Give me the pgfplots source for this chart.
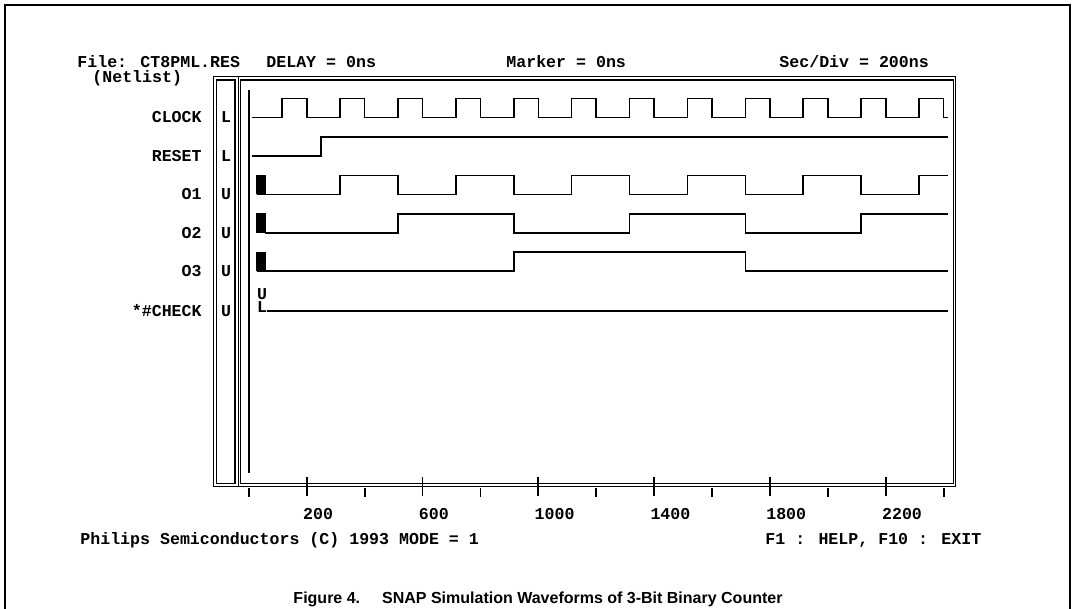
\documentclass[border=0pt]{standalone}
\usepackage{fontspec}
\usepackage{pgfplots}
\pgfplotsset{compat=1.18}
\setmainfont{Liberation Sans}
\newfontfamily\mono{Liberation Mono}
\newcommand\mb{\mono\bfseries\fontsize{8.3}{9}\selectfont}
\newcommand\capf{\bfseries\fontsize{8.0}{9}\selectfont}
\begin{document}
\begin{tikzpicture}[x=0.5pt,y=-0.5pt]
\useasboundingbox (0,0) rectangle (1075,609);
% outer figure border
\draw[line width=1pt] (5,609) -- (5,5) -- (1070,5) -- (1070,609);
\begin{axis}[
  at={(119pt,-38.35pt)}, anchor=north west,
  scale only axis, width=358.85pt, height=205pt,
  xmin=-37.3, xmax=2441.8, ymin=76.7, ymax=486.7, y dir=reverse,
  axis line style={draw=none},
  ytick=\empty,
  xtick={200,600,1000,1400,1800,2200},
  xticklabels={200,600,1000,1400,1800,2200},
  minor xtick={0,400,800,1200,1600,2000,2400},
  xtick pos=bottom, tick align=center,
  major tick length=9.5pt, minor tick length=4.5pt,
  every minor tick/.append style={yshift=-2.65pt},
  tick style={black, line width=0.9pt},
  xticklabel style={font=\mb, anchor=north west, inner sep=0pt, xshift=-2pt, yshift=-6pt},
  clip=false,
]
% marker cursor at 0 ns
\addplot[black, line width=0.8pt] coordinates {(0,90) (0,473)};
% CLOCK
\addplot[const plot, black, line width=0.8pt, y filter/.expression={117.3-19*y}] coordinates {
(10,0)(115,1)(200,0)(315,1)(400,0)(515,1)(600,0)(715,1)(800,0)(915,1)(1000,0)(1115,1)(1200,0)
(1315,1)(1400,0)(1515,1)(1600,0)(1715,1)(1800,0)(1915,1)(2000,0)(2115,1)(2200,0)(2315,1)(2400,0)(2415,0)};
% RESET
\addplot[const plot, black, line width=0.8pt, y filter/.expression={156-19*y}] coordinates {
(12,0)(250,1)(2415,1)};
% O1
\addplot[black, fill=black, y filter/.expression={194.3-19*y}] coordinates {(27,0)(56,0)(56,1)(27,1)(27,0)};
\addplot[const plot, black, line width=0.8pt, y filter/.expression={194.3-19*y}] coordinates {
(56,0)(315,1)(515,0)(715,1)(915,0)(1115,1)(1315,0)(1515,1)(1715,0)(1915,1)(2115,0)(2315,1)(2415,1)};
% O2
\addplot[black, fill=black, y filter/.expression={232.7-19*y}] coordinates {(27,0)(56,0)(56,1)(27,1)(27,0)};
\addplot[const plot, black, line width=0.8pt, y filter/.expression={232.7-19*y}] coordinates {
(56,0)(515,1)(915,0)(1315,1)(1715,0)(2115,1)(2415,1)};
% O3
\addplot[black, fill=black, y filter/.expression={271-19*y}] coordinates {(27,0)(56,0)(56,1)(27,1)(27,0)};
\addplot[const plot, black, line width=0.8pt, y filter/.expression={271-19*y}] coordinates {
(56,0)(915,1)(1715,0)(2415,0)};
% *#CHECK
\addplot[black, line width=0.8pt, y filter/.expression={310.7-19*y}] coordinates {(63,0)(2415,0)};
\end{axis}
% frames
\draw[line width=0.6pt] (213.3,76.7) rectangle (955.7,486.7);
\draw[line width=0.6pt] (238.3,76.7) -- (238.3,486.7);
\draw[line width=0.6pt] (216.7,80) rectangle (235,483.3);
\draw[line width=0.6pt] (240.8,80) rectangle (953.3,483.3);
% header
\begin{scope}[every node/.style={inner sep=0pt, font=\mb}]
\node[anchor=west] at (77,62) {File: CT8PML.RES};
\node[anchor=west] at (266,62) {DELAY = 0ns};
\node[anchor=west] at (506,62) {Marker = 0ns};
\node[anchor=west] at (779,62) {Sec/Div = 200ns};
\node[anchor=west] at (92,78) {(Netlist)};
\node[anchor=east] at (202,117) {CLOCK};
\node[anchor=east] at (202,156) {RESET};
\node[anchor=east] at (202,194.3) {O1};
\node[anchor=east] at (202,232.7) {O2};
\node[anchor=east] at (202,271) {O3};
\node[anchor=east] at (202,310.7) {*\#CHECK};
\node at (226,117) {L};
\node at (226,156) {L};
\node at (226,194.3) {U};
\node at (226,232.7) {U};
\node at (226,271) {U};
\node at (226,310.7) {U};
\node[anchor=base, align=center, font={\mono\bfseries\fontsize{8.3}{6.2}\selectfont}] at (262,312) {U\\L};
\node[anchor=west] at (80,540) {Philips Semiconductors (C) 1993 MODE = 1};
\node[anchor=west] at (765,540) {F1 : HELP, F10 : EXIT};
\end{scope}
\node[inner sep=0pt, font=\capf] at (538,599) {Figure 4.\hspace{11pt}SNAP Simulation Waveforms of 3-Bit Binary Counter};
\end{tikzpicture}
\end{document}
